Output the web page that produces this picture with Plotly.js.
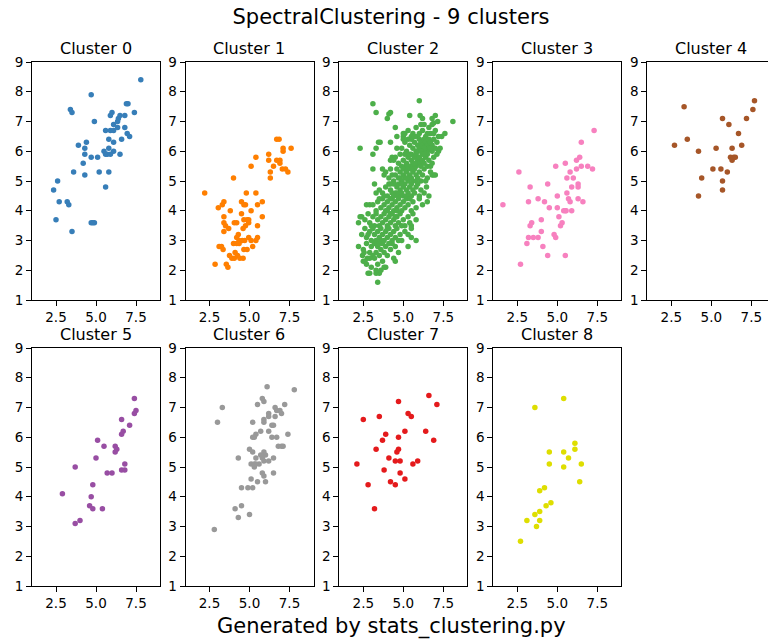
<!DOCTYPE html>
<html>
<head>
<meta charset="utf-8">
<script src="https://cdn.plot.ly/plotly-3.0.1.min.js"></script>
<style>
  html, body { margin: 0; padding: 0; overflow: hidden; background: #fff; }
  #chart { width: 782px; height: 641px; }
</style>
</head>
<body>
<div id="chart"></div>
<script>
// Points of each cluster as [x, y] pairs.
const cluster0 = [
  [7.8,8.4],[4.7,7.9],[3.4,7.4],[3.5,7.3],[4.9,7.0],[5.9,7.2],[6.0,7.3],[6.4,7.1],[6.35,7.0],[6.5,7.2],
  [6.8,7.2],[6.9,7.6],[7.0,7.6],[7.4,7.3],[5.6,6.7],[5.9,6.7],[6.1,6.7],[6.1,6.9],[6.35,6.8],[6.8,6.8],
  [6.95,6.6],[7.1,6.5],[5.8,6.4],[6.1,6.3],[6.6,6.4],[4.4,6.3],[3.9,6.2],[4.3,6.1],[5.8,6.1],[4.3,5.9],
  [5.5,6.0],[5.6,5.9],[5.7,5.9],[6.1,6.0],[5.9,5.9],[6.5,5.9],[4.7,5.8],[5.1,5.8],[4.2,5.6],[3.6,5.3],
  [5.2,5.3],[5.8,5.3],[4.3,5.2],[2.6,5.0],[2.35,4.7],[5.6,4.8],[2.7,4.3],[3.2,4.3],[3.3,4.2],[2.5,3.7],
  [4.7,3.6],[4.9,3.6],[4.8,3.6],[3.5,3.3]
];
const cluster1 = [
  [2.2,4.6],[4.0,5.1],[5.1,5.5],[5.4,5.8],[6.2,5.9],[6.2,5.7],[6.3,5.3],[6.3,5.1],[6.5,5.5],[6.7,6.4],
  [6.85,6.4],[7.1,6.1],[7.1,6.0],[7.6,6.1],[6.7,5.7],[6.9,5.7],[6.9,5.6],[7.05,5.4],[7.25,5.4],[7.4,5.3],
  [4.8,4.6],[5.4,4.6],[3.3,4.2],[3.4,4.3],[3.05,4.1],[3.8,4.0],[4.5,4.3],[4.65,4.2],[4.75,4.2],[5.5,4.2],
  [5.8,4.3],[5.1,4.0],[4.5,3.9],[3.4,3.8],[5.8,3.8],[3.4,3.6],[3.5,3.5],[3.7,3.4],[4.05,3.6],[4.2,3.6],
  [3.4,3.3],[4.65,3.7],[4.85,3.7],[4.95,3.7],[4.75,3.5],[4.95,3.6],[5.5,3.5],[4.6,3.4],[4.3,3.2],[4.2,3.1],
  [4.35,3.0],[4.0,2.9],[4.2,2.9],[4.35,2.9],[4.55,3.0],[4.7,3.0],[4.95,3.1],[5.1,3.0],[5.4,3.0],[5.5,3.1],
  [3.1,2.8],[3.25,2.8],[3.35,2.7],[5.2,2.8],[4.65,2.7],[4.85,2.7],[4.1,2.6],[4.25,2.5],[3.75,2.5],[3.9,2.4],
  [4.05,2.4],[4.4,2.4],[4.6,2.4],[2.85,2.2],[3.55,2.2],[3.65,2.1]
];
const cluster2 = [
  [3.1,7.6],[3.3,7.3],[4.0,7.1],[4.1,7.25],[4.2,7.3],[6.0,7.7],[5.4,7.2],[6.05,7.2],[6.2,7.1],[6.8,7.1],
  [7.0,7.2],[6.9,6.95],[7.15,7.0],[8.1,7.0],[7.6,6.6],[4.5,6.8],[2.3,6.1],[3.3,6.1],[3.1,5.9],[3.45,6.3],
  [3.55,6.3],[4.2,6.3],[4.6,6.5],[5.0,6.5],[3.1,5.4],[3.2,4.9],[3.3,4.6],[2.2,3.6],[2.4,3.8],[2.2,2.8],
  [2.45,2.5],[2.55,2.6],[2.5,2.3],[2.6,2.3],[2.75,2.4],[2.8,1.9],[2.9,1.9],[3.3,1.9],[3.5,1.9],[3.4,1.6],
  [4.4,2.4],[4.5,2.3],[3.9,2.1],[5.8,3.0],[5.3,2.8],[5.5,3.1],[6.6,4.5],[6.45,4.8],[6.8,5.2],[6.9,5.2],
  [7.2,6.0],
  [5.1,6.6],[5.3,6.7],[5.6,6.6],[5.8,6.8],[6.0,6.6],[6.2,6.7],[6.3,6.9],[6.5,6.6],[6.6,6.8],[6.8,6.9],
  [7.0,6.7],[7.2,6.5],[5.5,6.5],[5.9,6.5],[6.4,6.5],[6.7,6.6],[7.4,6.5],[5.0,6.6],[6.1,6.9],[6.9,6.6],
  [4.9,6.1],[5.1,6.3],[5.2,6.0],[5.4,6.2],[5.5,6.4],[5.6,6.1],[5.7,6.3],[5.8,6.0],[5.9,6.2],[6.0,6.4],
  [6.0,6.1],[6.1,6.3],[6.2,6.0],[6.2,6.2],[6.3,6.4],[6.4,6.1],[6.4,6.3],[6.5,6.0],[6.5,6.2],[6.6,6.4],
  [6.6,6.1],[6.7,6.3],[6.8,6.0],[6.8,6.2],[6.9,6.4],[7.0,6.1],[7.1,6.3],[7.3,6.1],[5.3,6.4],[5.7,6.5],
  [6.3,6.1],[5.9,6.0],[6.1,6.0],[6.7,6.1],[4.6,6.1],[5.0,6.4],
  [4.2,5.7],[4.3,5.8],[4.5,5.8],[4.7,5.6],[4.8,5.9],[5.0,5.7],[5.1,5.9],[5.2,5.6],[5.3,5.8],[5.4,5.5],
  [5.5,5.9],[5.5,5.7],[5.6,5.6],[5.7,5.8],[5.8,5.5],[5.8,5.9],[5.9,5.7],[6.0,5.6],[6.0,5.8],[6.1,5.5],
  [6.2,5.9],[6.2,5.7],[6.3,5.6],[6.4,5.8],[6.5,5.5],[6.5,5.9],[6.6,5.7],[6.8,5.6],[6.9,5.8],[7.1,5.9],
  [5.6,5.5],[5.2,5.5],[4.9,5.5],[6.7,5.5],[5.4,5.9],[5.7,5.6],[6.3,5.9],[4.4,5.7],
  [3.7,5.4],[3.9,5.3],[4.1,5.1],[4.2,5.4],[4.4,5.0],[4.5,5.2],[4.6,5.4],[4.7,5.1],[4.8,5.3],[4.9,5.0],
  [5.0,5.4],[5.0,5.2],[5.1,5.1],[5.2,5.3],[5.3,5.0],[5.3,5.4],[5.4,5.2],[5.5,5.1],[5.6,5.3],[5.6,5.0],
  [5.7,5.4],[5.8,5.2],[5.9,5.1],[6.0,5.3],[6.1,5.0],[6.2,5.2],[6.3,5.4],[6.5,5.1],[6.7,5.3],[7.0,5.2],
  [5.2,5.1],[4.8,5.1],[5.5,5.4],[5.8,5.0],[4.3,5.2],[6.4,5.0],[3.8,5.2],
  [3.5,4.7],[3.7,4.6],[3.9,4.8],[4.0,4.5],[4.1,4.9],[4.2,4.7],[4.3,4.6],[4.4,4.9],[4.5,4.6],[4.6,4.8],
  [4.7,4.5],[4.7,4.9],[4.8,4.7],[4.9,4.6],[5.0,4.8],[5.0,4.5],[5.1,4.9],[5.2,4.7],[5.3,4.6],[5.4,4.8],
  [5.5,4.5],[5.5,4.9],[5.6,4.7],[5.7,4.6],[5.8,4.8],[6.0,4.5],[6.1,4.7],[6.3,4.6],[4.4,4.5],[4.9,4.9],
  [5.2,4.5],[4.6,4.6],[3.8,4.5],[5.9,4.9],[4.2,4.9],
  [2.7,4.2],[2.9,4.2],[3.1,4.2],[3.3,4.0],[3.4,4.3],[3.6,4.1],[3.7,4.4],[3.8,4.2],[3.9,4.0],[4.0,4.3],
  [4.1,4.1],[4.2,4.4],[4.3,4.2],[4.4,4.0],[4.5,4.3],[4.6,4.1],[4.7,4.4],[4.8,4.2],[4.9,4.0],[5.0,4.3],
  [5.1,4.1],[5.2,4.4],[5.3,4.2],[5.5,4.0],[5.6,4.3],[5.8,4.1],[6.0,4.4],[6.2,4.2],[4.3,4.4],[4.6,4.0],
  [3.5,4.4],[5.4,4.4],[4.0,4.0],[6.5,4.3],
  [2.3,3.8],[2.6,3.7],[2.8,3.9],[2.9,3.6],[3.1,3.8],[3.2,3.5],[3.3,3.9],[3.4,3.7],[3.5,3.5],[3.6,3.8],
  [3.7,3.6],[3.8,3.9],[3.9,3.7],[4.0,3.5],[4.1,3.8],[4.2,3.6],[4.3,3.9],[4.4,3.7],[4.5,3.5],[4.6,3.8],
  [4.7,3.6],[4.8,3.9],[5.0,3.7],[5.1,3.5],[5.3,3.8],[5.4,3.6],[5.6,3.9],[5.8,3.7],[4.2,3.9],[4.9,3.5],
  [3.0,3.5],[4.5,3.8],[5.5,3.5],
  [2.4,3.2],[2.6,3.4],[2.7,3.1],[2.9,3.3],[3.0,3.0],[3.1,3.4],[3.2,3.2],[3.3,3.0],[3.4,3.3],[3.5,3.1],
  [3.6,3.4],[3.7,3.2],[3.8,3.0],[3.9,3.3],[4.0,3.1],[4.1,3.4],[4.2,3.2],[4.3,3.0],[4.4,3.3],[4.5,3.1],
  [4.6,3.4],[4.8,3.2],[4.9,3.0],[5.1,3.3],[5.3,3.2],[5.5,3.4],[3.6,3.0],[4.0,3.4],[2.8,3.2],[4.7,3.0],
  [2.5,2.7],[2.7,2.9],[2.9,2.6],[3.0,2.8],[3.2,2.9],[3.3,2.6],[3.4,2.8],[3.5,2.5],[3.6,2.7],[3.7,2.9],
  [3.8,2.6],[3.9,2.8],[4.0,2.5],[4.2,2.7],[4.3,2.9],[4.5,2.8],[4.7,2.6],[3.1,2.5],[3.5,2.9],[4.1,2.9],
  [2.7,2.2],[3.0,2.1],[3.2,2.4],[3.4,2.2],[3.6,2.0],[3.7,2.3],[3.8,2.1],[3.3,2.0],[2.9,2.4]
];
const cluster3 = [
  [7.3,6.7],[6.5,6.3],[5.5,5.6],[4.9,5.5],[6.4,5.8],[6.2,5.7],[6.5,5.5],[6.9,5.5],[7.2,5.4],[6.2,5.4],
  [5.8,5.3],[2.6,5.3],[5.6,5.1],[6.0,5.1],[6.3,4.9],[6.3,4.8],[5.9,4.8],[4.4,4.9],[3.3,4.8],[5.6,4.6],
  [5.0,4.5],[5.7,4.4],[5.8,4.3],[6.3,4.4],[6.6,4.3],[3.8,4.4],[4.2,4.3],[3.2,4.3],[1.6,4.2],[4.5,4.1],
  [5.0,4.1],[5.4,4.0],[5.5,4.0],[5.55,4.0],[5.9,4.0],[5.1,3.8],[4.0,3.7],[5.3,3.6],[5.2,3.5],[3.4,3.6],
  [3.3,3.5],[4.0,3.3],[4.8,3.2],[4.9,3.1],[3.2,3.1],[3.5,3.1],[3.8,3.1],[3.1,2.9],[4.1,2.8],[4.4,2.5],
  [5.5,2.5],[2.7,2.2]
];
const cluster4 = [
  [3.3,7.5],[7.7,7.7],[7.6,7.4],[5.7,7.1],[7.2,7.1],[6.1,6.9],[6.7,6.6],[2.7,6.2],[3.5,6.4],[4.2,6.0],
  [5.3,6.1],[6.3,6.1],[6.9,6.2],[6.2,5.8],[6.3,5.7],[6.4,5.8],[6.5,5.8],[5.1,5.4],[5.6,5.4],[6.0,5.3],
  [4.4,5.1],[5.7,5.0],[5.7,4.7],[4.2,4.5]
];
const cluster5 = [
  [7.4,7.3],[7.5,6.9],[7.4,6.8],[6.6,6.6],[7.1,6.4],[6.7,6.2],[6.6,6.1],[5.1,5.9],[5.5,5.7],[6.2,5.7],
  [6.3,5.6],[6.2,5.5],[5.0,5.3],[3.7,5.0],[6.8,5.1],[5.7,4.8],[6.0,4.8],[6.6,4.9],[6.8,4.9],[4.8,4.4],
  [2.9,4.1],[4.7,4.0],[4.6,3.7],[4.8,3.6],[5.4,3.6],[4.0,3.2],[3.7,3.1]
];
const cluster6 = [
  [6.1,7.7],[7.8,7.6],[5.8,7.3],[5.9,7.2],[5.5,7.1],[7.2,7.1],[3.3,7.0],[6.6,7.0],[6.7,6.9],[6.9,6.9],
  [6.2,6.8],[6.2,6.7],[7.0,6.8],[6.6,6.7],[5.9,6.6],[5.9,6.5],[3.0,6.5],[5.2,6.5],[6.4,6.4],[6.5,6.4],
  [5.7,6.2],[6.2,6.2],[5.4,6.1],[5.3,6.0],[5.2,6.0],[6.4,6.0],[6.7,6.0],[7.4,6.1],[6.8,5.7],[7.0,5.7],
  [7.1,5.7],[5.0,5.6],[5.2,5.5],[5.9,5.5],[6.0,5.4],[5.7,5.4],[5.8,5.3],[5.4,5.3],[6.5,5.3],[4.3,5.3],
  [5.1,5.1],[5.3,5.1],[5.6,5.1],[5.9,5.2],[6.2,5.2],[5.3,5.0],[5.4,5.1],[5.8,4.8],[5.9,4.7],[6.5,4.8],
  [5.1,4.6],[5.5,4.5],[6.0,4.5],[4.5,4.3],[4.9,4.3],[5.2,4.3],[4.5,3.7],[4.1,3.6],[4.3,3.3],[5.0,3.4],
  [2.8,2.9]
];
const cluster7 = [
  [6.6,7.4],[4.7,7.2],[7.1,7.1],[2.5,6.6],[3.5,6.7],[5.3,6.8],[5.5,6.7],[5.1,6.2],[6.4,6.2],[3.9,6.1],
  [4.7,6.0],[3.7,5.9],[6.9,5.9],[3.3,5.6],[4.7,5.6],[4.6,5.5],[4.1,5.3],[4.5,5.2],[4.8,5.2],[5.9,5.2],
  [5.6,5.1],[2.1,5.1],[3.8,4.9],[4.8,4.8],[5.1,4.6],[4.2,4.5],[4.5,4.4],[2.8,4.4],[3.2,3.6]
];
const cluster8 = [
  [5.4,7.3],[3.6,7.0],[6.1,5.8],[6.1,5.6],[4.5,5.5],[5.4,5.5],[5.7,5.3],[4.5,5.1],[6.5,5.1],[5.4,5.0],
  [6.4,4.5],[4.2,4.3],[3.9,4.2],[4.6,3.8],[4.3,3.7],[3.9,3.5],[3.6,3.4],[3.1,3.2],[3.9,3.2],[3.7,3.0],
  [2.7,2.5]
];

const clusters = [cluster0, cluster1, cluster2, cluster3, cluster4,
                  cluster5, cluster6, cluster7, cluster8];
const clusterNames = ['Cluster 0','Cluster 1','Cluster 2','Cluster 3','Cluster 4',
                      'Cluster 5','Cluster 6','Cluster 7','Cluster 8'];
const clusterColors = ['#377eb8','#ff7f00','#4daf4a','#f781bf','#a65628',
                       '#984ea3','#999999','#e41a1c','#dede00'];
const xTickVals = [2.5, 5.0, 7.5];
const xTickText = ['2.5', '5.0', '7.5'];
const yTickVals = [1, 2, 3, 4, 5, 6, 7, 8, 9];

// Figure geometry in pixels
const W = 782, H = 641;
const colLeft = [32, 185.5, 339.3, 493.3, 647.3];
const panelW = 128;
const rowTop = [62, 348];
const panelH = 238;
const FONT = 'DejaVu Sans, Liberation Sans, sans-serif';

const traces = [];
const layout = {
  width: W, height: H,
  margin: {l: 0, r: 0, t: 0, b: 0},
  paper_bgcolor: '#ffffff',
  plot_bgcolor: '#ffffff',
  showlegend: false,
  font: {family: FONT, color: '#000000'},
  title: {
    text: 'SpectralClustering - 9 clusters',
    x: 0.5, xanchor: 'center', xref: 'paper',
    y: 1 - 17 / H, yanchor: 'middle', yref: 'container',
    font: {family: FONT, size: 21, color: '#000000'}
  },
  annotations: [{
    text: 'Generated by stats_clustering.py',
    xref: 'paper', yref: 'paper',
    x: 0.5, y: 1 - 626 / H, xanchor: 'center', yanchor: 'middle',
    showarrow: false,
    font: {family: FONT, size: 21, color: '#000000'}
  }]
};

clusters.forEach((pts, i) => {
  const row = Math.floor(i / 5), col = i % 5;
  const n = i + 1;
  const xa = n === 1 ? 'xaxis' : 'xaxis' + n;
  const ya = n === 1 ? 'yaxis' : 'yaxis' + n;
  const x0 = colLeft[col] / W, x1 = (colLeft[col] + panelW) / W;
  const yTop = 1 - rowTop[row] / H, yBot = 1 - (rowTop[row] + panelH) / H;

  traces.push({
    type: 'scatter', mode: 'markers',
    x: pts.map(p => p[0]), y: pts.map(p => p[1]),
    xaxis: 'x' + (n === 1 ? '' : n), yaxis: 'y' + (n === 1 ? '' : n),
    marker: {color: clusterColors[i], size: 5.5, line: {width: 0}},
    hoverinfo: 'x+y'
  });

  const common = {
    showline: true, mirror: true, linecolor: '#000000', linewidth: 1,
    ticks: 'outside', ticklen: 5, tickwidth: 1, tickcolor: '#000000',
    showgrid: false, zeroline: false, fixedrange: true,
    tickfont: {family: FONT, size: 13.5, color: '#000000'}
  };
  layout[xa] = Object.assign({}, common, {
    domain: [x0, x1], range: [1, 9], anchor: 'y' + (n === 1 ? '' : n),
    tickmode: 'array', tickvals: xTickVals, ticktext: xTickText
  });
  layout[ya] = Object.assign({}, common, {
    domain: [yBot, yTop], range: [1, 9], anchor: 'x' + (n === 1 ? '' : n),
    tickmode: 'array', tickvals: yTickVals
  });

  layout.annotations.push({
    text: clusterNames[i],
    xref: 'paper', yref: 'paper',
    x: (x0 + x1) / 2, y: yTop, xanchor: 'center', yanchor: 'bottom', yshift: 2,
    showarrow: false,
    font: {family: FONT, size: 16, color: '#000000'}
  });
});

Plotly.newPlot('chart', traces, layout, {displayModeBar: false, staticPlot: true});
</script>
</body>
</html>
